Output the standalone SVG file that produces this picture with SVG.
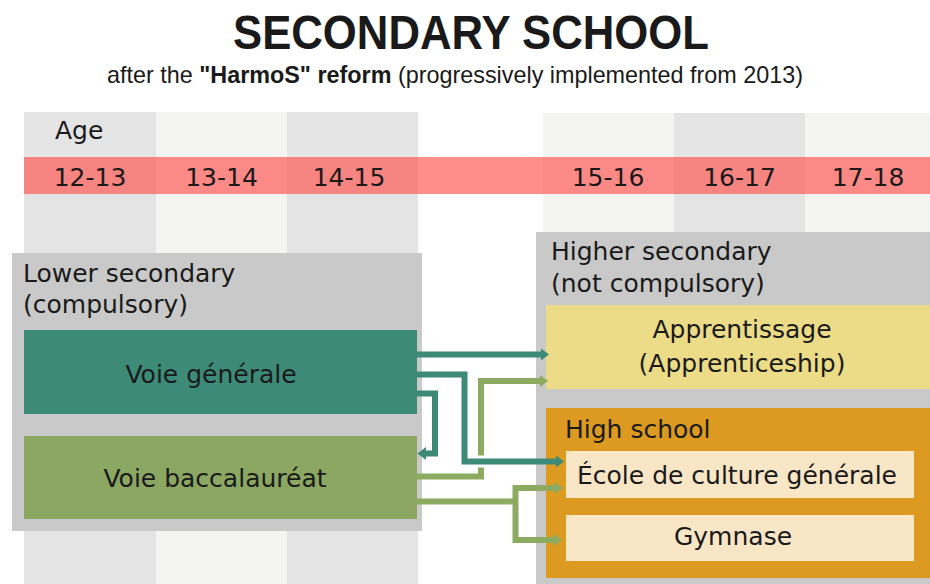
<svg xmlns="http://www.w3.org/2000/svg" width="930" height="584" viewBox="0 0 930 584">
<style>
.lbl{font-family:"DejaVu Sans",Verdana,sans-serif;font-size:25px;fill:#1a1a1a}
.mid{text-anchor:middle}
.colA{fill:#e4e4e4}
.colB{fill:#f4f4f2}
.cont{fill:#c9c9c9}
.teal{fill:none;stroke:#3d8a78;stroke-width:6}
.green{fill:none;stroke:#8cab60;stroke-width:6}
</style>
<defs>
<marker id="arT" markerUnits="userSpaceOnUse" markerWidth="10" markerHeight="13" refX="0.5" refY="6.5" orient="auto">
<path d="M0,0 L8.5,6.5 L0,13 z" fill="#3d8a78"/>
</marker>
<marker id="arG" markerUnits="userSpaceOnUse" markerWidth="10" markerHeight="13" refX="0.5" refY="6.5" orient="auto">
<path d="M0,0 L8.5,6.5 L0,13 z" fill="#8cab60"/>
</marker>
</defs>
<rect width="930" height="584" fill="#ffffff"/>

<g id="title">
<text x="471" y="49" text-anchor="middle" textLength="476" lengthAdjust="spacingAndGlyphs" style="font-family:'Liberation Sans',Arial,sans-serif;font-weight:bold;font-size:48px;fill:#1a1a1a">SECONDARY SCHOOL</text>
<text x="107" y="83" textLength="696" lengthAdjust="spacingAndGlyphs" style="font-family:'Liberation Sans',Arial,sans-serif;font-size:24px;fill:#1a1a1a">after the <tspan font-weight="bold">"HarmoS" reform</tspan> (progressively implemented from 2013)</text>
</g>

<g id="age-columns">
<rect class="colA" x="24" y="112" width="132" height="472"/>
<rect class="colB" x="156" y="112" width="131" height="472"/>
<rect class="colA" x="287" y="112" width="131" height="472"/>
<rect class="colB" x="543" y="113" width="131" height="471"/>
<rect class="colA" x="674" y="113" width="131" height="471"/>
<rect class="colB" x="805" y="113" width="125" height="471"/>
<rect x="24" y="157" width="906" height="37" fill="#ff504b" fill-opacity="0.65"/>
<text class="lbl" x="55" y="139">Age</text>
<text class="lbl mid" x="90" y="186">12-13</text>
<text class="lbl mid" x="221.5" y="186">13-14</text>
<text class="lbl mid" x="349" y="186">14-15</text>
<text class="lbl mid" x="608" y="186">15-16</text>
<text class="lbl mid" x="739.5" y="186">16-17</text>
<text class="lbl mid" x="868" y="186">17-18</text>
</g>

<g id="lower-secondary">
<rect class="cont" x="12" y="253" width="410" height="278"/>
<text class="lbl" x="23" y="282">Lower secondary</text>
<text class="lbl" x="23" y="313">(compulsory)</text>
</g>
<g id="voie-generale">
<rect x="24" y="330" width="393" height="84" fill="#3d8a78"/>
<text class="lbl mid" x="211" y="383">Voie générale</text>
</g>
<g id="voie-baccalaureat">
<rect x="24" y="436" width="393" height="83" fill="#8ba762"/>
<text class="lbl mid" x="215" y="487">Voie baccalauréat</text>
</g>

<g id="higher-secondary">
<rect class="cont" x="536" y="232" width="394" height="352"/>
<text class="lbl" x="551" y="260">Higher secondary</text>
<text class="lbl" x="551" y="292">(not compulsory)</text>
</g>
<g id="apprentissage">
<rect x="546" y="305" width="384" height="84" fill="#ecdb87"/>
<text class="lbl mid" x="742" y="338">Apprentissage</text>
<text class="lbl mid" x="742" y="372">(Apprenticeship)</text>
</g>
<g id="high-school">
<rect x="546" y="408" width="384" height="170" fill="#dc9b20"/>
<text class="lbl" x="565" y="438">High school</text>
</g>
<g id="ecole-culture-generale">
<rect x="566" y="451" width="348" height="47" fill="#f8e6c7"/>
<text class="lbl mid" x="737" y="484">École de culture générale</text>
</g>
<g id="gymnase">
<rect x="566" y="515" width="348" height="46" fill="#f8e6c7"/>
<text class="lbl mid" x="733" y="545">Gymnase</text>
</g>

<g id="connectors">
<path class="green" d="M417,476.5 H481 V381 H540" marker-end="url(#arG)"/>
<path class="green" d="M417,501.5 H515.5"/>
<path class="green" d="M515.5,485 V543"/>
<path class="green" d="M515.5,488 H555" marker-end="url(#arG)"/>
<path class="green" d="M515.5,540 H554" marker-end="url(#arG)"/>
<path d="M470,461.5 H495" fill="none" stroke="#ffffff" stroke-width="12"/>
<path class="teal" d="M417,354.5 H541" marker-end="url(#arT)"/>
<path class="teal" d="M417,374.5 H464.5 V461.5 H556" marker-end="url(#arT)"/>
<path class="teal" d="M417,393.5 H435 V453.5 H425.5" marker-end="url(#arT)"/>
</g>
</svg>
